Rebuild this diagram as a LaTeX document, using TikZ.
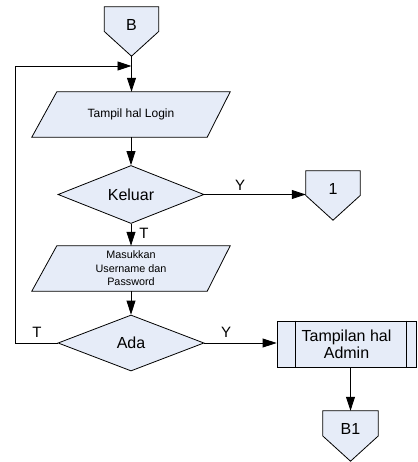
\documentclass[tikz,border=0pt]{standalone}
\usepackage{fontspec}
\setmainfont{Liberation Sans}
\usetikzlibrary{arrows.meta,shapes.geometric}
\pgfdeclarelayer{bg}
\pgfsetlayers{bg,main}
\definecolor{shapefill}{RGB}{230,236,248}
\tikzset{
  every picture/.style={x=1pt,y=-1pt},
  shp/.style={draw=black,fill=shapefill,line width=0.8pt},
  ln/.style={draw=black,line width=0.8pt},
  arr/.style={ln,-{Triangle[length=14pt,width=9pt]}},
  box/.style={rectangle,inner sep=0pt},
  dia/.style={diamond,shp,inner sep=0pt,font=\fontsize{16}{18}\selectfont},
  big/.style={font=\fontsize{16}{17}\selectfont,inner sep=0pt},
  lab/.style={font=\fontsize{15}{17}\selectfont,inner sep=0pt},
}
\begin{document}
\begin{tikzpicture}
\useasboundingbox (0,0) rectangle (417,462);
% off-page connector B
\node[box,minimum width=54pt,minimum height=49pt] (b) at (131.5,31.5) {};
\node[big] (bt) at (131.5,25) {B};
% login parallelogram
\node[box,minimum width=198pt,minimum height=45pt,font=\fontsize{12}{14}\selectfont] (login) at (131,114.5) {Tampil hal Login};
% keluar
\node[dia,minimum width=146pt,minimum height=53pt] (keluar) at (131,194.5) {Keluar};
% connector 1
\node[box,minimum width=54pt,minimum height=49pt] (c1) at (333,195.5) {};
\node[big] (c1t) at (333,189) {1};
% masukkan
\node[box,minimum width=198pt,minimum height=45pt,align=center,font=\fontsize{10.8}{13.5}\selectfont] (masuk) at (131,268.5) {Masukkan\\Username dan\\Password};
% ada
\node[dia,minimum width=146pt,minimum height=56pt] (ada) at (131,343) {Ada};
% admin
\node[box,shp,minimum width=139pt,minimum height=46pt,align=center,font=\fontsize{16}{17}\selectfont] (admin) at (346.5,344) {Tampilan hal\\Admin};
\draw[ln] ([xshift=19pt]admin.north west) -- ([xshift=19pt]admin.south west);
\draw[ln] ([xshift=-10.5pt]admin.north east) -- ([xshift=-10.5pt]admin.south east);
% connector B1
\node[box,minimum width=55pt,minimum height=50pt] (b1) at (350.5,436) {};
\node[big] (b1t) at (350.5,429) {B1};

\begin{pgfonlayer}{bg}
\foreach \n in {b,c1,b1}{
  \path[shp] (\n.north west) -- (\n.north east) -- (\n.east) -- (\n.south) -- (\n.west) -- cycle;
}
\foreach \n in {login,masuk}{
  \path[shp] ([xshift=25pt]\n.north west) -- (\n.north east) -- ([xshift=-23pt]\n.south east) -- (\n.south west) -- cycle;
}
\end{pgfonlayer}

\coordinate (join) at (b.south |- 0,66);
\coordinate (leftc) at (15,343);
% connectors
\draw[arr] (b.south) -- (login.north -| b.south);
\draw[arr] (login.south) -- (keluar.north);
\draw[arr] (keluar.east) -- (keluar.east -| c1.west);
\node[lab] (ly1) at (240,185) {Y};
\draw[arr] (keluar.south) -- (masuk.north);
\node[lab] (lt1) at (144,233) {T};
\draw[arr] (masuk.south) -- (ada.north);
\draw[arr] (ada.east) -- (ada.east -| admin.west);
\node[lab] (ly2) at (226,332) {Y};
\draw[arr] (ada.west) -- (leftc) |- (join);
\node[lab] (lt2) at (37,332) {T};
\draw[arr] (admin.south -| b1.north) -- (b1.north);
\end{tikzpicture}
\end{document}
